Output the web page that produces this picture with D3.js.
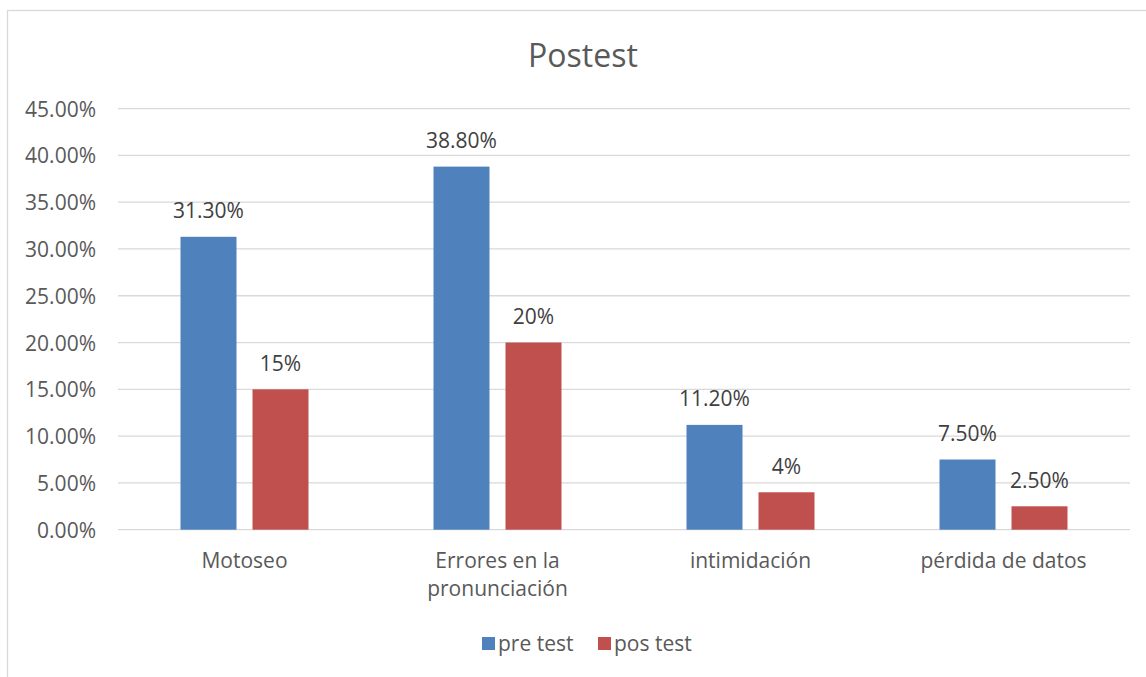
<!DOCTYPE html>
<html><head><meta charset="utf-8">
<script src="https://cdn.jsdelivr.net/npm/d3@7"></script>
<style>body{margin:0;background:#fff}text{font-family:"Open Sans",sans-serif}</style>
</head><body><svg id="c" width="1146" height="677"></svg>
<script>
const categories = ["Motoseo", "Errores en la\npronunciación", "intimidación", "pérdida de datos"];
const preTest = [0.313, 0.388, 0.112, 0.075];
const posTest = [0.15, 0.20, 0.04, 0.025];
const preLabels = ["31.30%", "38.80%", "11.20%", "7.50%"];
const posLabels = ["15%", "20%", "4%", "2.50%"];
const seriesNames = ["pre test", "pos test"];
const colors = ["#4F81BD", "#C0504D"];
const yTicks = [0, 0.05, 0.10, 0.15, 0.20, 0.25, 0.30, 0.35, 0.40, 0.45];

(function () {
const svg = d3.select("#c");
const fs = "21px";
svg.append("rect").attr("x", 7.5).attr("y", 10.5).attr("width", 1150).attr("height", 680)
  .attr("fill", "#fff").attr("stroke", "#D9D9D9").attr("stroke-width", 1.3);

const pLeft = 118, pRight = 1130, pTop = 108.6, pBottom = 529.7;
const x = d3.scaleBand().domain(categories).range([pLeft, pRight]);
const y = d3.scaleLinear().domain([0, 0.45]).range([pBottom, pTop]);
const barW = 56, gap = 16;

svg.append("g").selectAll("line").data(yTicks).join("line")
  .attr("x1", pLeft).attr("x2", pRight).attr("y1", d => y(d)).attr("y2", d => y(d))
  .attr("stroke", "#D9D9D9").attr("stroke-width", 1.3);

const yAxis = d3.axisLeft(y).tickValues(yTicks).tickFormat(d => (d * 100).toFixed(2) + "%").tickSize(0).tickPadding(22);
const ya = svg.append("g").attr("transform", `translate(${pLeft},0)`).call(yAxis);
ya.select(".domain").remove();
ya.selectAll("text").attr("fill", "#595959").attr("dy", "0.36em").style("font-size", fs).style("font-family", "Open Sans");

const series = [preTest, posTest];
const labels = [preLabels, posLabels];
series.forEach((vals, si) => {
  const off = si === 0 ? -gap / 2 - barW : gap / 2;
  svg.append("g").selectAll("rect").data(vals).join("rect")
    .attr("x", (d, i) => x(categories[i]) + x.bandwidth() / 2 + off)
    .attr("y", d => y(d)).attr("width", barW).attr("height", d => y(0) - y(d))
    .attr("fill", colors[si]);
  svg.append("g").selectAll("text").data(vals).join("text")
    .attr("x", (d, i) => x(categories[i]) + x.bandwidth() / 2 + off + barW / 2)
    .attr("y", d => y(d) - 18.4)
    .attr("text-anchor", "middle").attr("fill", "#404040").style("font-size", fs)
    .text((d, i) => labels[si][i]);
});

const xg = svg.append("g");
categories.forEach(c => {
  const lines = c.split("\n");
  const t = xg.append("text").attr("text-anchor", "middle").attr("fill", "#595959").style("font-size", fs);
  lines.forEach((l, li) => {
    t.append("tspan").attr("x", x(c) + x.bandwidth() / 2).attr("y", 567.7 + li * 28.5).text(l);
  });
});

svg.append("text").attr("x", 583).attr("y", 66.7).attr("text-anchor", "middle")
  .attr("fill", "#595959").style("font-size", "32px").text("Postest");

const legX = [482, 598];
seriesNames.forEach((n, i) => {
  svg.append("rect").attr("x", legX[i]).attr("y", 637).attr("width", 13).attr("height", 13).attr("fill", colors[i]);
  svg.append("text").attr("x", legX[i] + 16).attr("y", 651).attr("fill", "#595959").style("font-size", fs).text(n);
});
})();
</script></body></html>
